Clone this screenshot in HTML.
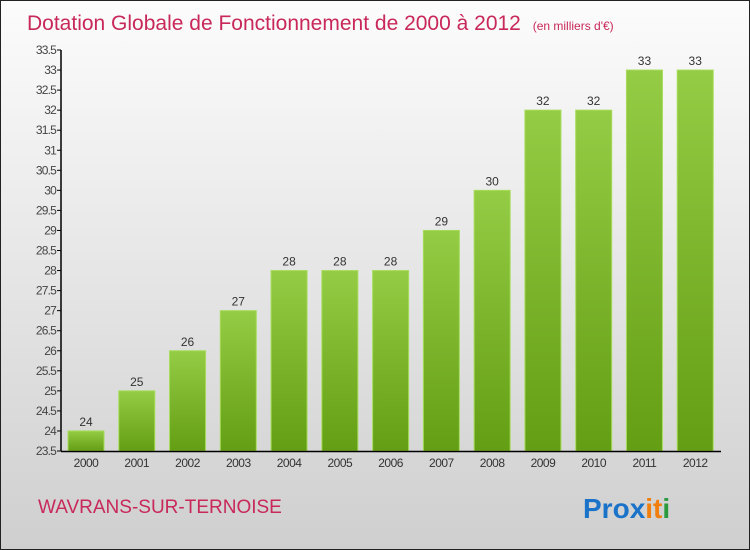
<!DOCTYPE html>
<html><head><meta charset="utf-8"><style>
body{margin:0}
#c{position:relative;width:748px;height:548px;border:1px solid #222;background:linear-gradient(#fcfcfc,#cfcfcf);font-family:"Liberation Sans",sans-serif;overflow:hidden}
</style></head><body>
<div id="c">
<svg width="748" height="548" id="s">
<defs><linearGradient id="g" x1="0" y1="0" x2="0" y2="1"><stop offset="0" stop-color="#95cc45"/><stop offset="1" stop-color="#639e14"/></linearGradient></defs>
<text x="26" y="29" font-size="21" fill="#c8285a">Dotation Globale de Fonctionnement de 2000 à 2012 <tspan font-size="12" dx="6">(en milliers d'€)</tspan></text>
<text x="37" y="512" font-size="19" fill="#c8285a">WAVRANS-SUR-TERNOISE</text>
<text x="582" y="517" font-size="28" font-weight="bold" fill="#1a73c9">Pro<tspan fill="#1a73c9">x</tspan><tspan fill="#f07f0e">i</tspan><tspan fill="#f07f0e">t</tspan><tspan fill="#2a9a3c">i</tspan></text>
</svg></div>
<script>
const categories=["2000","2001","2002","2003","2004","2005","2006","2007","2008","2009","2010","2011","2012"];
const values=[24,25,26,27,28,28,28,29,30,32,32,33,33];
const yTicks=[23.5,24,24.5,25,25.5,26,26.5,27,27.5,28,28.5,29,29.5,30,30.5,31,31.5,32,32.5,33,33.5];
const NS="http://www.w3.org/2000/svg",s=document.getElementById('s');
const x0=60,x1=720,y=v=>450-(v-23.5)*40.1,bw=(x1-x0)/categories.length;
function el(t,a,txt){const e=document.createElementNS(NS,t);for(const k in a)e.setAttribute(k,a[k]);if(txt!=null)e.textContent=txt;s.appendChild(e);return e;}
yTicks.forEach(t=>{
 const l=el('line',{x1:x0-4,x2:x0,y1:y(t),y2:y(t),stroke:'#000'});
 
 
 const tx=el('text',{x:x0-5,y:y(t)+4,'font-size':12,fill:'#444','text-anchor':'end','letter-spacing':'-0.8'},String(t));
 
 
});
categories.forEach((c,i)=>{
 const bx=x0+i*bw+7,top=y(values[i]);
 const r=el('rect',{x:bx,y:top,width:36,height:450-top,fill:'url(#g)',stroke:'#a6dc5a','stroke-width':1});
 
 
 const v=el('text',{x:bx+18,y:top-5,'font-size':12,fill:'#333','text-anchor':'middle'},String(values[i]));
 
 
 const xl=el('text',{x:bx+18,y:466,'font-size':12,fill:'#333','text-anchor':'middle','letter-spacing':'-0.5'},c);
 
 
});
const ya=el('line',{x1:x0,x2:x0,y1:y(33.5),y2:450.5,stroke:'#000','stroke-width':1.5});


const xa=el('line',{x1:x0,x2:x1,y1:450.5,y2:450.5,stroke:'#000','stroke-width':1.5});


</script>
</body></html>
